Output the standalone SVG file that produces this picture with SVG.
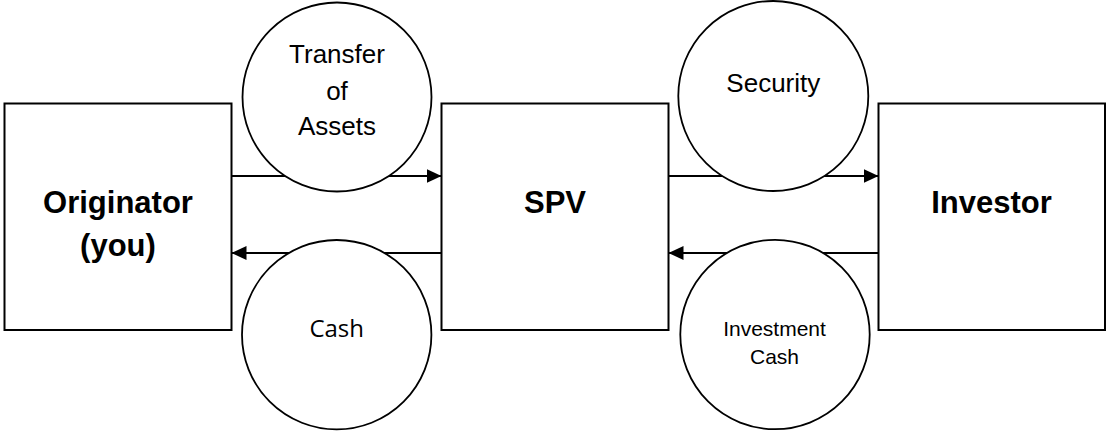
<svg xmlns="http://www.w3.org/2000/svg" width="1106" height="431" viewBox="0 0 1106 431">
<style>
.box{fill:#fff;stroke:#000;stroke-width:2}
.circ{fill:#fff;stroke:#000;stroke-width:1.8}
.conn{stroke:#000;stroke-width:2;fill:none}
.bt{font-family:"Liberation Sans",Arial,sans-serif;font-weight:bold;font-size:31px;text-anchor:middle;fill:#000}
.ct{font-family:"Liberation Sans",Arial,sans-serif;font-size:26px;text-anchor:middle;fill:#000}
.st{font-family:"Liberation Sans",Arial,sans-serif;font-size:21px;text-anchor:middle;fill:#000}
.cal{font-family:"Open Sans","Noto Sans",sans-serif;font-size:24px;text-anchor:middle;fill:#000}
</style>
<defs>
<marker id="ah" markerWidth="15" markerHeight="14" refX="15" refY="7" orient="auto" markerUnits="userSpaceOnUse">
<path d="M0,0 L15,7 L0,14 Z" fill="#000"/>
</marker>
</defs>
<rect width="1106" height="431" fill="#fff"/>
<g id="originator">
<rect class="box" x="4.5" y="103.5" width="227" height="226.5"/>
<text class="bt" x="118" y="213">Originator</text>
<text class="bt" x="118" y="256">(you)</text>
</g>
<g id="spv">
<rect class="box" x="441.5" y="103.5" width="227" height="226.5"/>
<text class="bt" x="555" y="213">SPV</text>
</g>
<g id="investor">
<rect class="box" x="878.5" y="103.5" width="226.5" height="226.5"/>
<text class="bt" x="991.5" y="213">Investor</text>
</g>
<g id="connectors">
<line class="conn" x1="231.5" y1="176" x2="441.5" y2="176" marker-end="url(#ah)"/>
<line class="conn" x1="441.5" y1="253" x2="231.5" y2="253" marker-end="url(#ah)"/>
<line class="conn" x1="668.5" y1="176" x2="878.5" y2="176" marker-end="url(#ah)"/>
<line class="conn" x1="878.5" y1="253" x2="668.5" y2="253" marker-end="url(#ah)"/>
</g>
<g id="transfer">
<circle class="circ" cx="337" cy="97" r="94.5"/>
<text class="ct" x="337" y="63">Transfer</text>
<text class="ct" x="337" y="100">of</text>
<text class="ct" x="337" y="135">Assets</text>
</g>
<g id="cash">
<circle class="circ" cx="336.7" cy="334.7" r="94.7"/>
<text class="cal" x="336.7" y="337">Cash</text>
</g>
<g id="security">
<circle class="circ" cx="773.3" cy="96" r="95"/>
<text class="ct" x="773.3" y="92">Security</text>
</g>
<g id="investment-cash">
<circle class="circ" cx="775" cy="334.5" r="94.7"/>
<text class="st" x="774.5" y="336">Investment</text>
<text class="st" x="774.5" y="363.5">Cash</text>
</g>
</svg>
